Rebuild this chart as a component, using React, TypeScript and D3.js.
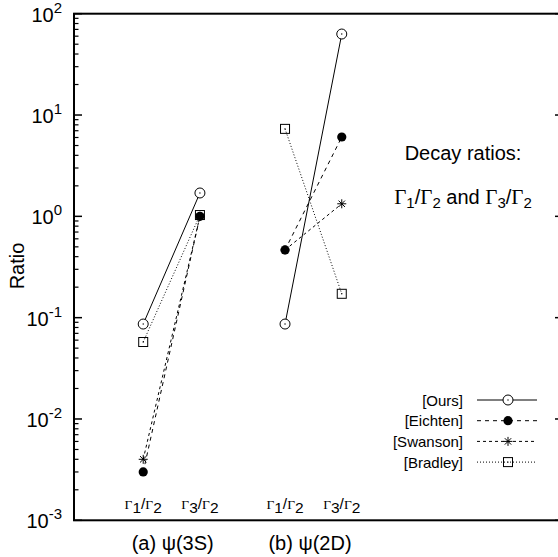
import * as d3 from "d3"

// category positions along x and their tick labels (Γnum/Γden)
const X_POS = [1, 2, 3.5, 4.5]
const TICK_NUM = ["1", "3", "1", "3"]
const TICK_DEN = ["2", "2", "2", "2"]
const GROUP_LABELS = ["(a) ψ(3S)", "(b) ψ(2D)"]
const GROUP_POS = [1.52, 3.94]

// ratios, one value per category
const OURS = [0.0865, 1.7, 0.0865, 63]
const EICHTEN = [0.003, 1.0, 0.466, 6.07]
const SWANSON = [0.004, 1.0, 0.466, 1.33]
const BRADLEY = [0.0575, 1.03, 7.3, 0.172]

const DECADES = [-3, -2, -1, 0, 1, 2]

type Marker = "circle" | "dot" | "star" | "square"

const SERIES: { name: string; values: number[]; dash: string; marker: Marker }[] = [
  { name: "[Ours]", values: OURS, dash: "none", marker: "circle" },
  { name: "[Bradley]", values: BRADLEY, dash: "1,2", marker: "square" },
  { name: "[Eichten]", values: EICHTEN, dash: "4,4", marker: "dot" },
  { name: "[Swanson]", values: SWANSON, dash: "3,3", marker: "star" },
]
const LEGEND_ORDER = ["[Ours]", "[Eichten]", "[Swanson]", "[Bradley]"]

const SANS = "'Liberation Sans', Arial, sans-serif"
const SERIF = "'Liberation Serif', 'Times New Roman', serif"

function MarkerShape({ type, cx, cy }: { type: Marker; cx: number; cy: number }) {
  if (type === "circle")
    return (
      <g>
        <circle cx={cx} cy={cy} r={5} fill="#fff" stroke="#000" strokeWidth={1} />
        <circle cx={cx} cy={cy} r={0.7} fill="#000" />
      </g>
    )
  if (type === "dot") return <circle cx={cx} cy={cy} r={4.6} fill="#000" />
  if (type === "square")
    return (
      <g>
        <rect x={cx - 4.5} y={cy - 4.5} width={9} height={9} fill="none" stroke="#000" strokeWidth={1} />
        <circle cx={cx} cy={cy} r={0.7} fill="#000" />
      </g>
    )
  const s = 4.5
  const d = 3.2
  return (
    <path
      d={`M${cx - s},${cy}H${cx + s}M${cx},${cy - s}V${cy + s}M${cx - d},${cy - d}L${cx + d},${cy + d}M${cx - d},${cy + d}L${cx + d},${cy - d}`}
      stroke="#000"
      strokeWidth={1}
      fill="none"
    />
  )
}

function GammaRatio({ x, y, num, den, gSize, sSize, shift }: { x: number; y: number; num: string; den: string; gSize: number; sSize: number; shift: number }) {
  return (
    <text x={x} y={y} textAnchor="middle" fontFamily={SANS} fontSize={sSize}>
      <tspan fontFamily={SERIF} fontSize={gSize}>Γ</tspan>
      <tspan dy={shift}>{num}</tspan>
      <tspan dy={-shift}>/</tspan>
      <tspan fontFamily={SERIF} fontSize={gSize}>Γ</tspan>
      <tspan dy={shift}>{den}</tspan>
    </text>
  )
}

export default function App() {
  const W = 558
  const H = 557
  const left = 74
  const right = 563
  const top = 13.7
  const bottom = 520.3

  const x = d3.scaleLinear().domain([-0.22, 8.4]).range([left, right])
  const y = d3.scaleLog().domain([1e-3, 1e2]).range([bottom, top])

  const minor: number[] = []
  DECADES.slice(0, -1).forEach((d) => {
    for (let k = 2; k <= 9; k++) minor.push(k * Math.pow(10, d))
  })

  const line = d3.line<[number, number]>().x((p) => x(p[0])).y((p) => y(p[1]))
  const groups = [[0, 1], [2, 3]]

  const legX1 = 477
  const legX2 = 537
  const legM = 508
  const legY0 = 400
  const legDy = 20.7

  return (
    <svg width={W} height={H} style={{ position: "absolute", left: 0, top: 0 }}>
      <rect width={W} height={H} fill="#fff" />

      {/* ticks */}
      {DECADES.map((d) => (
        <g key={d}>
          <line x1={left} x2={left + 8} y1={y(Math.pow(10, d))} y2={y(Math.pow(10, d))} stroke="#000" strokeWidth={1.5} />
          <line x1={right - 8} x2={right} y1={y(Math.pow(10, d))} y2={y(Math.pow(10, d))} stroke="#000" strokeWidth={1.5} />
          <text x={62} y={y(Math.pow(10, d)) + 8} textAnchor="end" fontFamily={SANS} fontSize={20}>
            10<tspan fontSize={15} dy={-9}>{d}</tspan>
          </text>
        </g>
      ))}
      {minor.map((v) => (
        <g key={v}>
          <line x1={left} x2={left + 4.5} y1={y(v)} y2={y(v)} stroke="#000" strokeWidth={1.2} />
          <line x1={right - 4.5} x2={right} y1={y(v)} y2={y(v)} stroke="#000" strokeWidth={1.2} />
        </g>
      ))}

      {/* frame */}
      <rect x={left} y={top} width={right - left} height={bottom - top} fill="none" stroke="#000" strokeWidth={2} />

      <text transform={`translate(24,266) rotate(-90)`} textAnchor="middle" fontFamily={SANS} fontSize={20}>Ratio</text>

      {/* category labels */}
      {X_POS.map((p, i) => (
        <GammaRatio key={i} x={x(p)} y={509} num={TICK_NUM[i]} den={TICK_DEN[i]} gSize={13.5} sSize={15.5} shift={4} />
      ))}
      {GROUP_LABELS.map((g, i) => (
        <text key={g} x={x(GROUP_POS[i])} y={550} textAnchor="middle" fontFamily={SANS} fontSize={20}>{g}</text>
      ))}

      {/* annotation */}
      <text x={463} y={160} textAnchor="middle" fontFamily={SANS} fontSize={20}>Decay ratios:</text>
      <text x={463} y={204} textAnchor="middle" fontFamily={SANS} fontSize={20}>
        <tspan fontFamily={SERIF} fontSize={21}>Γ</tspan>
        <tspan dy={4} fontSize={15}>1</tspan>
        <tspan dy={-4}>/</tspan>
        <tspan fontFamily={SERIF} fontSize={21}>Γ</tspan>
        <tspan dy={4} fontSize={15}>2</tspan>
        <tspan dy={-4}> and </tspan>
        <tspan fontFamily={SERIF} fontSize={21}>Γ</tspan>
        <tspan dy={4} fontSize={15}>3</tspan>
        <tspan dy={-4}>/</tspan>
        <tspan fontFamily={SERIF} fontSize={21}>Γ</tspan>
        <tspan dy={4} fontSize={15}>2</tspan>
      </text>

      {/* series */}
      {SERIES.map((s) => (
        <g key={s.name}>
          {groups.map((g, gi) => (
            <path
              key={gi}
              d={line(g.map((i) => [X_POS[i], s.values[i]] as [number, number])) ?? ""}
              fill="none"
              stroke="#000"
              strokeWidth={1}
              strokeDasharray={s.dash}
            />
          ))}
        </g>
      ))}
      {SERIES.map((s) => (
        <g key={s.name + "m"}>
          {s.values.map((v, i) => (
            <MarkerShape key={i} type={s.marker} cx={x(X_POS[i])} cy={y(v)} />
          ))}
        </g>
      ))}

      {/* legend */}
      {LEGEND_ORDER.map((name, i) => {
        const s = SERIES.find((q) => q.name === name)!
        const ly = legY0 + i * legDy
        return (
          <g key={name}>
            <text x={463} y={ly + 5.5} textAnchor="end" fontFamily={SANS} fontSize={15}>{name}</text>
            <line x1={legX1} x2={legX2} y1={ly} y2={ly} stroke="#000" strokeWidth={1} strokeDasharray={s.dash} />
            <MarkerShape type={s.marker} cx={legM} cy={ly} />
          </g>
        )
      })}
    </svg>
  )
}
